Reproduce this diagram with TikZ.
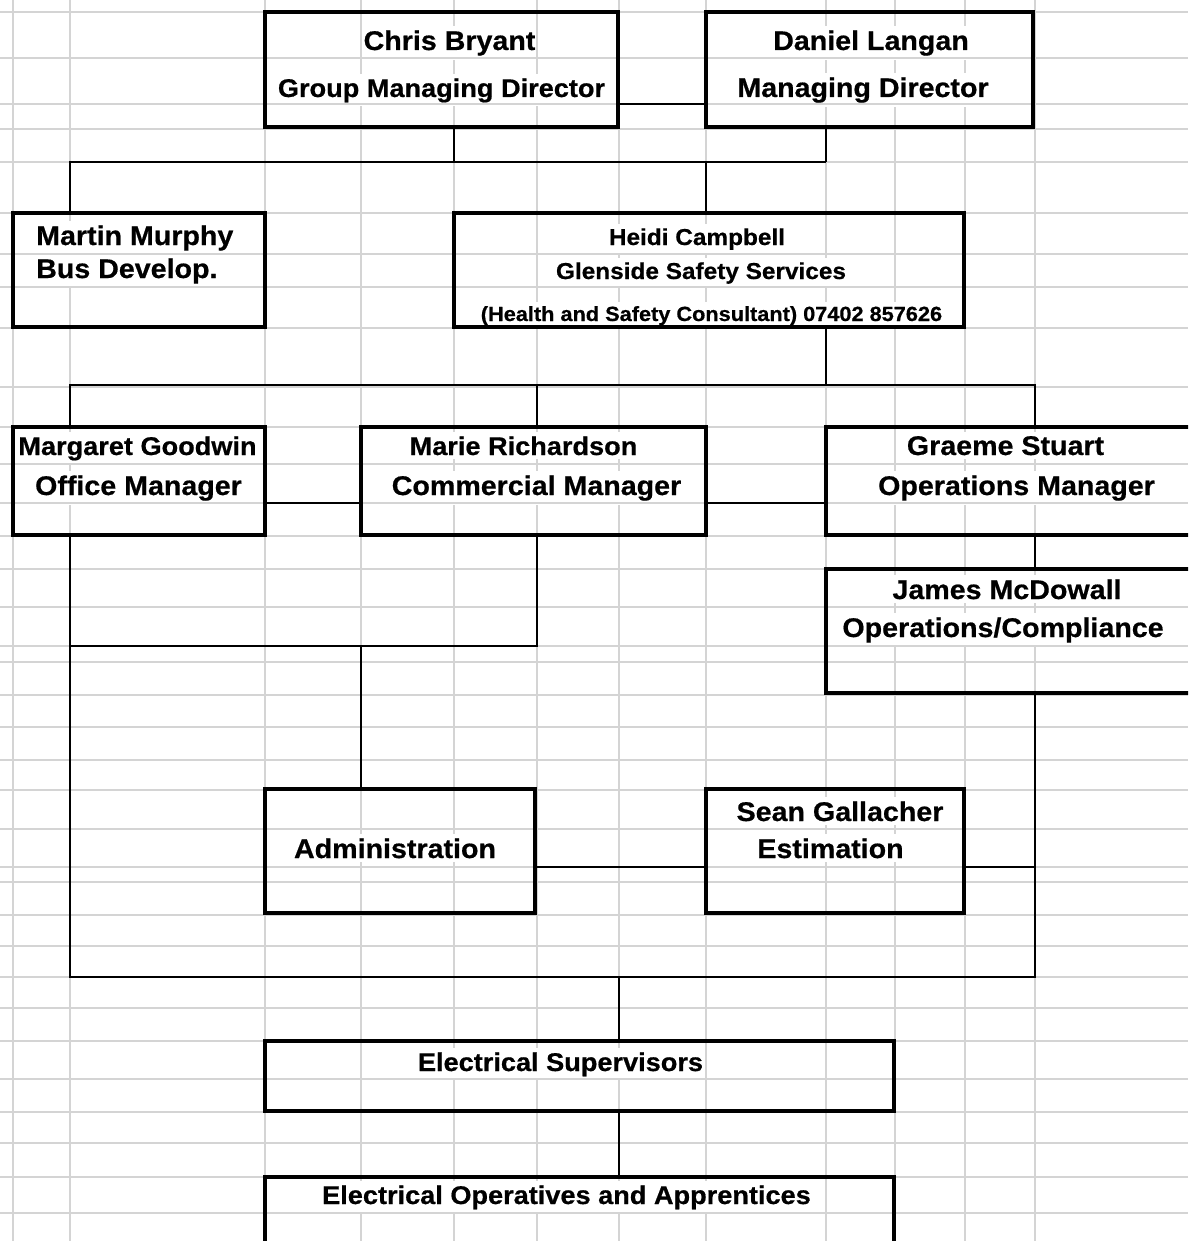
\documentclass[tikz,border=0pt]{standalone}
\usepackage{fontspec}
\setmainfont{Liberation Sans}[FakeStretch=1.06,FakeBold=0.6]
\definecolor{gridgray}{RGB}{212,212,212}
\newcommand\fbig{\fontsize{27}{30}\selectfont\bfseries}
\newcommand\fmidsz{\fontsize{25.6}{28}\selectfont\bfseries}
\newcommand\fheidi{\fontsize{23}{26}\selectfont\bfseries}
\newcommand\fheidis{\fontsize{20.5}{23}\selectfont\bfseries}
\tikzset{
  gridline/.style={draw=gridgray, line width=1.5pt},
  orgbox/.style={draw=black, line width=3.2pt, rectangle, inner sep=0pt},
  conn/.style={draw=black, line width=2pt},
  lbl/.style={anchor=base, fill=white, inner xsep=1pt, inner ysep=4pt, font=\fbig},
  lblw/.style={lbl, anchor=base west},
}
\begin{document}
\begin{tikzpicture}[x=1pt,y=-1pt]
\clip (0,0) rectangle (1188,1241);
\fill[white] (0,0) rectangle (1188,1241);
% vertical grid lines
\foreach \gx in {13,70,265,361,454,537,619,706,826,895,965,1035}
  \draw[gridline] (\gx,0) -- (\gx,1241);
% texts (their white backgrounds hide the vertical grid lines)
\node[lbl] (t1) at (449.5,50) {Chris Bryant};
\node[lbl, font=\fmidsz] (t2) at (441.5,97) {Group Managing Director};
\node[lbl] (t3) at (871,50) {Daniel Langan};
\node[lbl] (t4) at (863,97) {Managing Director};
\node[lblw] (t5) at (35,245) {Martin Murphy};
\node[lblw] (t6) at (35,278) {Bus Develop.};
\node[lbl, font=\fheidi] (t7) at (697,245) {Heidi Campbell};
\node[lbl, font=\fheidi] (t8) at (701,279) {Glenside Safety Services};
\node[lbl, font=\fheidis] (t9) at (711.5,321) {(Health and Safety Consultant) 07402 857626};
\node[lbl, font=\fmidsz] (t10) at (137.5,455) {Margaret Goodwin};
\node[lbl] (t11) at (138.5,495) {Office Manager};
\node[lbl, font=\fmidsz] (t12) at (523.5,455) {Marie Richardson};
\node[lbl] (t13) at (536.5,495) {Commercial Manager};
\node[lbl] (t14) at (1005.5,455) {Graeme Stuart};
\node[lbl] (t15) at (1016.5,495) {Operations Manager};
\node[lbl] (t16) at (1007,599) {James McDowall};
\node[lbl] (t17) at (1003,637) {Operations/Compliance};
\node[lbl] (t18) at (395,858) {Administration};
\node[lbl] (t19) at (840,821) {Sean Gallacher};
\node[lbl] (t20) at (830.5,858) {Estimation};
\node[lbl, font=\fmidsz] (t21) at (560.5,1071) {Electrical Supervisors};
\node[lbl, font=\fmidsz] (t22) at (566.5,1204) {Electrical Operatives and Apprentices};
% horizontal grid lines
\foreach \gy in {12,58,104,129,162,213,254,287,328,387,427,464,503,536,569,607,646,662,695,727,760,790,829,867,882,915,946,977,1008,1041,1079,1112,1143,1177,1213}
  \draw[gridline] (0,\gy) -- (1188,\gy);
% boxes
\node[orgbox, minimum width=353, minimum height=115] (chris) at (441.5,69.5) {};
\node[orgbox, minimum width=327, minimum height=115] (daniel) at (869.5,69.5) {};
\node[orgbox, minimum width=252, minimum height=114] (mm) at (139,270) {};
\node[orgbox, minimum width=510, minimum height=114] (heidi) at (709,270) {};
\node[orgbox, minimum width=252, minimum height=108] (mg) at (139,481) {};
\node[orgbox, minimum width=345, minimum height=108] (mr) at (533.5,481) {};
\node[orgbox, minimum width=374, minimum height=108] (gs) at (1013,481) {};
\node[orgbox, minimum width=374, minimum height=124] (jm) at (1013,631) {};
\node[orgbox, minimum width=270, minimum height=124] (adm) at (400,851) {};
\node[orgbox, minimum width=258, minimum height=124] (sg) at (835,851) {};
\node[orgbox, minimum width=629, minimum height=70] (es) at (579.5,1076) {};
\node[orgbox, minimum width=629, minimum height=93] (eo) at (579.5,1223.5) {};
% junction coordinates
\coordinate (cd) at (662,104);
\coordinate (t0) at (70,162);
\coordinate (ta) at (454,162);
\coordinate (tb) at (706,162);
\coordinate (tc) at (826,162);
\coordinate (u0) at (826,385);
\coordinate (u1) at (70,385);
\coordinate (u2) at (537,385);
\coordinate (u3) at (1035,385);
\coordinate (v1) at (313,503);
\coordinate (v2) at (766,503);
\coordinate (x0) at (537,646);
\coordinate (x1) at (70,646);
\coordinate (x2) at (361,646);
\coordinate (y0) at (620,867);
\coordinate (y1) at (1035,867);
\coordinate (w0) at (70,977);
\coordinate (w1) at (1035,977);
\coordinate (z0) at (619,977);
% connectors
\draw[conn] (cd -| chris.east) -- (cd -| daniel.west);
\draw[conn] (chris.south -| ta) -- (ta);
\draw[conn] (daniel.south -| tc) -- (tc);
\draw[conn] (mm.north -| t0) -- (t0) -- (tc);
\draw[conn] (tb) -- (tb |- heidi.north);
\draw[conn] (heidi.south -| u0) -- (u0);
\draw[conn] (u1 |- mg.north) -- (u1) -- (u3) -- (u3 |- gs.north);
\draw[conn] (u2) -- (u2 |- mr.north);
\draw[conn] (v1 -| mg.east) -- (v1 -| mr.west);
\draw[conn] (v2 -| mr.east) -- (v2 -| gs.west);
\draw[conn] (gs.south -| u3) -- (jm.north -| u3);
\draw[conn] (mr.south -| x0) -- (x0) -- (x1);
\draw[conn] (x2) -- (x2 |- adm.north);
\draw[conn] (y0 -| adm.east) -- (y0 -| sg.west);
\draw[conn] (y1 -| sg.east) -- (y1);
\draw[conn] (mg.south -| w0) -- (w0) -- (w1) -- (jm.south -| w1);
\draw[conn] (z0) -- (z0 |- es.north);
\draw[conn] (es.south -| z0) -- (eo.north -| z0);
\end{tikzpicture}
\end{document}
